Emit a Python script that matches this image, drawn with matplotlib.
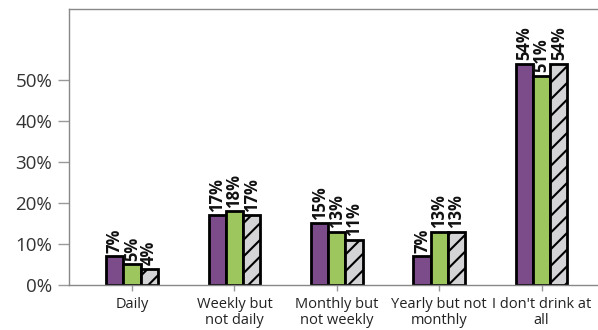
import matplotlib
matplotlib.use("Agg")
import matplotlib.pyplot as plt
import numpy as np

plt.rcParams['font.family'] = ['Open Sans', 'DejaVu Sans']
plt.rcParams['hatch.linewidth'] = 1.5

categories = ["Daily", "Weekly but\nnot daily", "Monthly but\nnot weekly",
              "Yearly but not\nmonthly", "I don't drink at\nall"]
series_a = [7, 17, 15, 7, 54]
series_b = [5, 18, 13, 13, 51]
series_c = [4, 17, 11, 13, 54]

colors = ["#7b4b8a", "#9dc65f", "#d4d4d6"]
hatches = [None, None, "//"]

fig = plt.figure(figsize=(5.98, 3.30), dpi=100)
ax = fig.add_axes([0.1154, 0.1364, 0.8846, 0.8363])

x = np.arange(len(categories))
width = 0.168
for i, (vals, col, h) in enumerate(zip([series_a, series_b, series_c], colors, hatches)):
    pos = x + (i - 1) * width
    ax.bar(pos, vals, width, color=col, edgecolor="black", linewidth=2.0,
           hatch=h, zorder=2)
    for p, v in zip(pos, vals):
        ax.annotate(f"{v}%", (p, v), xytext=(0, 2.5), textcoords="offset points",
                    rotation=90, ha="center", va="bottom", fontsize=12,
                    fontweight="bold", color="#111111")

ax.set_ylim(0, 67.3)
ax.set_xlim(-0.615, 4.55)
ax.set_yticks([0, 10, 20, 30, 40, 50])
ax.set_yticklabels(["0%", "10%", "20%", "30%", "40%", "50%"], fontsize=13.5, color="#333333")
ax.set_xticks(x)
ax.set_xticklabels(categories, fontsize=10.5, color="#222222", linespacing=1.05)
ax.tick_params(axis="y", length=8, width=1, color="#999999", pad=4)
ax.tick_params(axis="x", length=4, width=1, color="#999999", pad=5)

for s in ["left", "bottom", "top"]:
    ax.spines[s].set_color("#888888")
    ax.spines[s].set_linewidth(1.0)
ax.spines["right"].set_visible(False)

fig.savefig("out.png", dpi=100)
